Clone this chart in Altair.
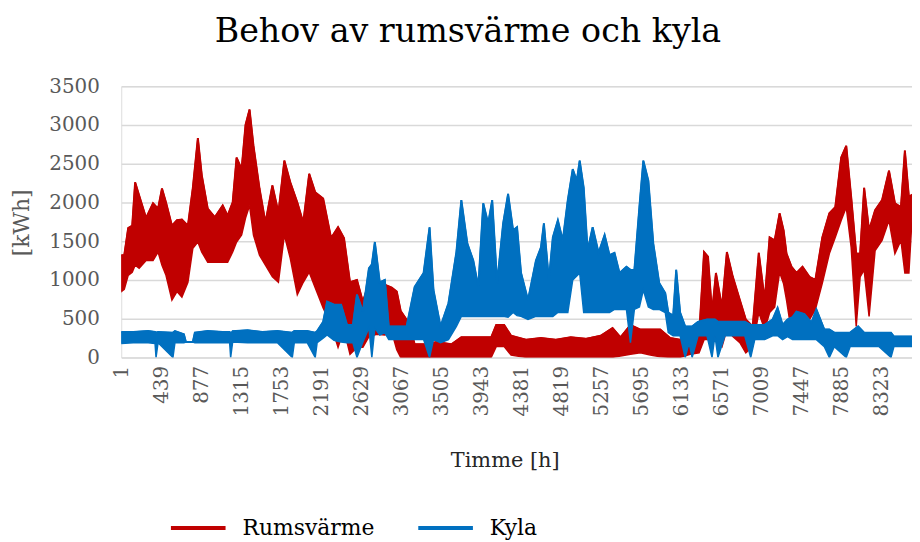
import altair as alt
import pandas as pd

TITLE = "Behov av rumsvärme och kyla"
SERIES = ["Rumsvärme", "Kyla"]
COLORS = ["#C00000", "#0070C0"]
X_TICKS = [1, 439, 877, 1315, 1753, 2191, 2629, 3067, 3505, 3943, 4381,
           4819, 5257, 5695, 6133, 6571, 7009, 7447, 7885, 8323]
Y_TICKS = [0, 500, 1000, 1500, 2000, 2500, 3000, 3500]

# Rumsvärme: envelope (high / low)
R_HOURS = [1, 34, 77, 121, 153, 197, 273, 349, 404, 447,
           491, 556, 611, 665, 731, 785, 840, 883, 948, 1025,
           1112, 1166, 1221, 1264, 1319, 1362, 1406, 1449, 1515, 1580,
           1656, 1722, 1787, 1852, 1929, 1994, 2059, 2125, 2212, 2299,
           2375, 2440, 2506, 2582, 2647, 2713, 2800, 2887, 2963, 3018,
           3061, 3148, 3214, 3344, 3453, 3616, 3725, 3889, 4052, 4107,
           4194, 4270, 4433, 4597, 4760, 4923, 5087, 5250, 5381, 5468,
           5577, 5686, 5794, 5903, 6012, 6121, 6230, 6328, 6383, 6426,
           6470, 6513, 6579, 6633, 6698, 6775, 6840, 6916, 6982, 7047,
           7101, 7156, 7210, 7254, 7286, 7341, 7395, 7461, 7537, 7602,
           7678, 7755, 7820, 7885, 7940, 7994, 8049, 8092, 8136, 8190,
           8256, 8332, 8408, 8473, 8539, 8582, 8626, 8659]
R_HI = [1320, 1320, 1670, 1700, 2260, 2090, 1800, 1990, 1920, 2180,
        2000, 1700, 1770, 1780, 1700, 2190, 2830, 2350, 1920, 1810,
        1960, 1830, 2000, 2580, 2430, 3000, 3200, 2730, 2180, 1740,
        2220, 1870, 2540, 2260, 2000, 1740, 2370, 2130, 2050, 1540,
        1680, 1540, 970, 1000, 720, 960, 960, 940, 900, 850,
        600, 450, 170, 170, 200, 170, 260, 260, 260, 420,
        420, 280, 230, 250, 230, 260, 240, 280, 380, 260,
        420, 360, 360, 360, 250, 230, 270, 270, 1360, 1300,
        580, 1090, 650, 1360, 1040, 740, 490, 400, 1350, 740,
        1550, 1510, 1860, 1640, 1340, 1170, 1090, 1170, 1040, 1000,
        1550, 1860, 1940, 2580, 2730, 2070, 1340, 1340, 2190, 1640,
        1900, 2030, 2410, 1990, 1940, 2670, 2070, 2100]
R_LO = [850, 880, 1060, 1100, 1190, 1150, 1250, 1250, 1360, 1190,
        1060, 740, 850, 780, 970, 1410, 1490, 1360, 1230, 1230,
        1230, 1230, 1360, 1490, 1580, 1800, 1960, 1580, 1320, 1190,
        1040, 970, 1580, 1280, 810, 970, 1100, 900, 640, 420,
        130, 360, 40, 130, 130, 270, 300, 290, 330, 100,
        0, 0, 0, 0, 0, 0, 0, 0, 0, 140,
        140, 30, 0, 0, 0, 0, 0, 0, 0, 20,
        40, 60, 30, 10, 0, 0, 40, 60, 230, 230,
        200, 230, 140, 360, 270, 190, 60, 140, 580, 360,
        580, 650, 1100, 950, 740, 320, 450, 360, 490, 620,
        960, 1340, 1550, 1770, 1940, 1420, 400, 1040, 1130, 530,
        1380, 1510, 1770, 1340, 1510, 1090, 1090, 1770]

# Kyla: envelope (high / low)
K_HOURS = [1, 132, 295, 371, 382, 404, 567, 589, 687, 709,
           785, 807, 948, 1112, 1188, 1199, 1221, 1384, 1547, 1711,
           1874, 1896, 2037, 2125, 2146, 2212, 2255, 2331, 2408, 2473,
           2538, 2582, 2647, 2713, 2745, 2778, 2832, 2887, 2930, 3018,
           3126, 3214, 3312, 3377, 3420, 3497, 3584, 3671, 3725, 3791,
           3856, 3911, 3965, 4019, 4063, 4117, 4183, 4237, 4292, 4335,
           4379, 4455, 4542, 4597, 4629, 4684, 4727, 4782, 4836, 4891,
           4945, 4989, 5021, 5065, 5108, 5163, 5228, 5294, 5348, 5402,
           5457, 5533, 5577, 5620, 5675, 5718, 5773, 5827, 5892, 5958,
           5991, 6045, 6078, 6121, 6176, 6219, 6252, 6317, 6415, 6470,
           6502, 6535, 6611, 6720, 6829, 6894, 6938, 7047, 7134, 7188,
           7243, 7297, 7352, 7395, 7482, 7559, 7613, 7700, 7755, 7809,
           7940, 7983, 8070, 8136, 8299, 8430, 8462, 8659]
K_HI = [330, 330, 340, 330, 320, 330, 320, 340, 300, 200,
        200, 320, 340, 330, 330, 300, 340, 350, 330, 340,
        320, 340, 340, 320, 340, 460, 720, 680, 680, 420,
        420, 810, 590, 1150, 1200, 1490, 970, 1000, 400, 400,
        400, 910, 1090, 1680, 870, 400, 700, 1360, 2030, 1470,
        1250, 910, 1990, 1730, 2030, 960, 1730, 2110, 1640, 1680,
        1090, 740, 1250, 1420, 1730, 1000, 1550, 1770, 1510, 2030,
        2430, 2280, 2540, 2190, 1380, 1680, 1350, 1580, 1320, 1350,
        1090, 1170, 1130, 1130, 1940, 2540, 2280, 1470, 960, 830,
        580, 540, 1130, 580, 400, 400, 400, 460, 490, 490,
        490, 460, 460, 460, 460, 420, 420, 420, 490, 640,
        420, 490, 520, 590, 560, 450, 620, 360, 360, 320,
        320, 320, 400, 320, 320, 320, 270, 270]
K_LO = [180, 190, 190, 180, 0, 190, 0, 190, 190, 200,
        200, 190, 190, 190, 190, 0, 200, 190, 190, 190,
        0, 190, 190, 0, 190, 250, 290, 220, 200, 190,
        190, 0, 200, 380, 0, 380, 290, 320, 230, 230,
        230, 230, 230, 0, 230, 190, 230, 400, 530, 530,
        530, 530, 530, 530, 530, 530, 530, 520, 580, 540,
        530, 490, 530, 530, 530, 530, 530, 580, 580, 580,
        1000, 1050, 1090, 580, 580, 580, 580, 580, 580, 620,
        620, 620, 190, 620, 650, 870, 650, 620, 620, 580,
        320, 280, 280, 280, 0, 190, 0, 280, 280, 0,
        280, 0, 280, 280, 280, 0, 230, 230, 280, 280,
        230, 270, 230, 230, 230, 230, 230, 140, 0, 140,
        0, 140, 140, 140, 140, 0, 140, 140]

red = pd.DataFrame({"Timme": R_HOURS, "hi": R_HI, "lo": R_LO, "serie": SERIES[0]})
blue = pd.DataFrame({"Timme": K_HOURS, "hi": K_HI, "lo": K_LO, "serie": SERIES[1]})

FONT = "DejaVu Serif"
GRAY = "#595959"

x_enc = alt.X(
    "Timme:Q",
    scale=alt.Scale(domain=[1, 8660], nice=False, zero=False),
    axis=alt.Axis(
        values=X_TICKS, format="d", labelAngle=270, labelFont=FONT, labelFontSize=20,
        labelColor=GRAY, labelPadding=8, ticks=False, domain=False, grid=False,
        labelFlush=False, labelOverlap=False, labelBound=False,
        title="Timme [h]", titleFont=FONT, titleFontSize=21, titleFontWeight="normal",
        titleColor="#262626", titleX=386, titleY=110, titleAlign="center",
        titleBaseline="alphabetic",
    ),
)


def y_enc(field):
    return alt.Y(
        field,
        scale=alt.Scale(domain=[0, 3500], nice=False),
        axis=alt.Axis(
            values=Y_TICKS, format="d", labelFont=FONT, labelFontSize=20,
            labelColor=GRAY, labelPadding=22, ticks=False, tickSize=0, domain=False,
            grid=True, gridColor="#D9D9D9", gridWidth=1.5,
            title="[kWh]", titleFont=FONT, titleFontSize=22, titleFontWeight="normal",
            titleColor=GRAY, titleAngle=270, titleX=-100, titleY=137,
            titleAlign="center", titleBaseline="middle",
        ),
    )


color_enc = alt.Color(
    "serie:N",
    scale=alt.Scale(domain=SERIES, range=COLORS),
    legend=alt.Legend(
        title=None, orient="none", legendX=48, legendY=415, direction="horizontal",
        symbolType="stroke", symbolSize=3025, symbolStrokeWidth=4,
        labelFont=FONT, labelFontSize=22, labelColor="#000000",
        labelOffset=15, columnPadding=36,
    ),
)


def band(df, col):
    area = alt.Chart(df).mark_area(
        fill=col, stroke=col, strokeWidth=1.5, clip=True, opacity=1
    ).encode(x=x_enc, y=y_enc("lo:Q"), y2="hi:Q")
    line = alt.Chart(df).mark_line(strokeWidth=2, clip=True).encode(
        x=x_enc, y=y_enc("hi:Q"), color=color_enc
    )
    return [area, line]


chart = alt.layer(*band(red, COLORS[0]), *band(blue, COLORS[1])).properties(
    width=796,
    height=273,
    autosize=alt.AutoSizeParams(type="none"),
    padding={"left": 114, "top": 77, "right": 0, "bottom": 183},
    title=alt.Title(TITLE, font=FONT, fontSize=33.5, fontWeight="normal",
                    color="#000000", anchor="middle", dx=-49, dy=-23),
).configure_view(stroke=None).configure(background="white")

chart.save("out.html", embed_options={"renderer": "svg", "actions": False})
